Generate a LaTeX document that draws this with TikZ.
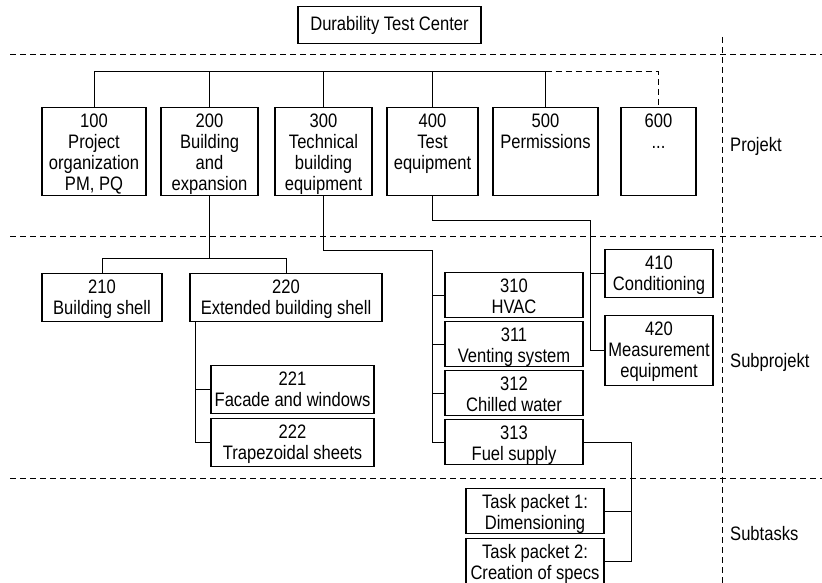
\documentclass[tikz,border=0pt]{standalone}
\usepackage{fontspec}
\setmainfont{Liberation Sans}[FakeStretch=0.85]
% stacked, centred lines whose first baseline is the box baseline
\newcommand\wtxt[1]{\begin{tabular}[t]{@{}c@{}}#1\end{tabular}}
\begin{document}
\begin{tikzpicture}[x=1pt, y=-1pt,
  font=\fontsize{19.5}{21}\selectfont,
  conn/.style={draw, line width=1pt},
  sep/.style={draw, line width=1pt, dash pattern=on 6pt off 4pt},
  wbox/.code 2 args={%
    \pgfmathsetmacro\wbdepth{#2-20}%
    \edef\wbtmp{\noexpand\tikzset{draw, line width=1.1pt, inner sep=0pt, anchor=north,
      minimum width=#1pt, minimum height=#2pt, text height=20pt, text depth=\wbdepth pt}}%
    \wbtmp},
  lvl/.style={anchor=base west, inner sep=0pt}
]
\useasboundingbox (0,0) rectangle (822,583);

% level separators
\draw[sep] (10,55) -- (822,55);
\draw[sep] (10,236) -- (822,236);
\draw[sep] (10,478) -- (822,478);
\draw[sep] (722,37) -- (722,583);

% level names
\node[lvl] (lp) at (730,152) {Projekt};
\node[lvl] (ls) at (730,367) {Subprojekt};
\node[lvl] (lt) at (730,540) {Subtasks};

% root
\node[draw, line width=1.1pt, inner sep=0pt, minimum width=183pt, minimum height=37pt, anchor=north] (root) at (389.5,6) {Durability Test Center};

% projects
\node[wbox={104}{88}] (n100) at (94,107) {\wtxt{100\\Project\\organization\\PM, PQ}};
\node[wbox={97}{88}] (n200) at (209.5,107) {\wtxt{200\\Building\\and\\expansion}};
\node[wbox={97}{88}] (n300) at (323.5,107) {\wtxt{300\\Technical\\building\\equipment}};
\node[wbox={91}{88}] (n400) at (432.5,107) {\wtxt{400\\Test\\equipment}};
\node[wbox={105}{88}] (n500) at (545.5,107) {\wtxt{500\\Permissions}};
\node[wbox={75}{88}] (n600) at (658.5,107) {\wtxt{600\\...}};

% subprojects
\node[wbox={120}{48}] (n210) at (102,273) {\wtxt{210\\Building shell}};
\node[wbox={192}{48}] (n220) at (286,273) {\wtxt{220\\Extended building shell}};
\node[wbox={163}{48}] (n221) at (292.5,365) {\wtxt{221\\Facade and windows}};
\node[wbox={163}{48}] (n222) at (292.5,418) {\wtxt{222\\Trapezoidal sheets}};
\node[wbox={138}{45}] (n310) at (514,272) {\wtxt{310\\HVAC}};
\node[wbox={138}{45}] (n311) at (514,321) {\wtxt{311\\Venting system}};
\node[wbox={138}{45}] (n312) at (514,370) {\wtxt{312\\Chilled water}};
\node[wbox={138}{45}] (n313) at (514,419) {\wtxt{313\\Fuel supply}};
\node[wbox={108}{48}] (n410) at (659,249) {\wtxt{410\\Conditioning}};
\node[wbox={108}{70}] (n420) at (659,315) {\wtxt{420\\Measurement\\equipment}};

% subtasks
\node[wbox={138}{45}] (tp1) at (535,488) {\wtxt{Task packet 1:\\Dimensioning}};
\node[wbox={138}{45}] (tp2) at (535,538) {\wtxt{Task packet 2:\\Creation of specs}};

% junction points
\coordinate (bus) at (0,72);
\coordinate (j2) at (0,258);
\coordinate (j22) at ([xshift=6pt]n220.south west);
\coordinate (j3) at (432,250);
\coordinate (j4) at (590,220);
\coordinate (j5) at (631,0);

% project bus
\draw[conn] (n100.north) -- (n100.north |- bus) -- (n500.north |- bus) -- (n500.north);
\draw[conn] (n200.north) -- (n200.north |- bus);
\draw[conn] (n300.north) -- (n300.north |- bus);
\draw[conn] (n400.north) -- (n400.north |- bus);
\draw[sep] (n500.north |- bus) -| (n600.north);

% 200 branch
\draw[conn] (n200.south) -- (n200.south |- j2);
\draw[conn] (n210.north) |- (n220.north |- j2) -- (n220.north);
\draw[conn] (j22) |- (n222.west);
\draw[conn] (n221.west) -- (n221.west -| j22);

% 300 branch
\draw[conn] (n300.south) |- (j3) |- (n313.west);
\draw[conn] (n310.west) -- (n310.west -| j3);
\draw[conn] (n311.west) -- (n311.west -| j3);
\draw[conn] (n312.west) -- (n312.west -| j3);

% 400 branch
\draw[conn] (n400.south) |- (j4) |- (n420.west);
\draw[conn] (n410.west) -- (n410.west -| j4);

% 313 subtasks
\draw[conn] (n313.east) -- (n313.east -| j5) |- (tp2.east);
\draw[conn] (tp1.east) -- (tp1.east -| j5);
\end{tikzpicture}
\end{document}
